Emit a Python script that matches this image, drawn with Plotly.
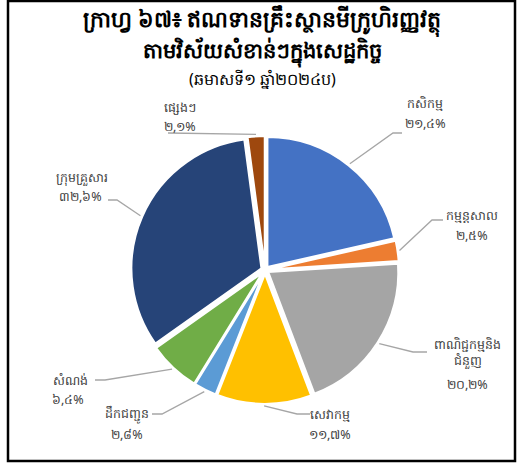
import math
import plotly.graph_objects as go

W, H = 519, 464

# ---- data ----
sectors = ["កសិកម្ម", "កម្មន្តសាល", "ពាណិជ្ជកម្មនិង<br>ជំនួញ", "សេវាកម្ម",
           "ដឹកជញ្ជូន", "សំណង់", "ក្រុមគ្រួសារ", "ផ្សេងៗ"]
shares = [21.4, 2.5, 20.2, 11.7, 2.8, 6.4, 32.6, 2.1]
colors = ["#4472C4", "#ED7D31", "#A5A5A5", "#FFC000",
          "#5B9BD5", "#70AD47", "#264478", "#9E480E"]
title_lines = ["ក្រាហ្វ ៦៧៖ ឥណទានគ្រឹះស្ថានមីក្រូហិរញ្ញវត្ថុ",
               "តាមវិស័យសំខាន់ៗក្នុងសេដ្ឋកិច្ច",
               "(ឆមាសទី១ ឆ្នាំ២០២៤ប)"]

# ---- layout / style (pixel positions of label name / percent text and leader lines) ----
# anchor: "c" = centred on x, "r" = right edge at x
name_pos = [(425, 103, "c"), (472, 216, "c"), (467, 352, "c"), (330, 414, "c"),
            (127, 414, "c"), (90, 380, "r"), (110, 177, "r"), (180, 107, "c")]
pct_pos = [(425, 124, "c"), (472, 236, "c"), (467, 384, "c"), (330, 434, "c"),
           (127, 434, "c"), (86, 399, "r"), (104, 197, "r"), (180, 126, "c")]
elbow_pos = [(393, 133), (432, 220), (413, 352), (297, 414),
             (162, 414), (105, 380), (117, 200), None]
end_pos = [(402, 133), (443, 220), (427, 352), (310, 414),
           (152, 414), (95, 380), (108, 200), (168, 133)]

CX, CY = 265, 270
R = 130
PULL = 0.03

KH_DIGITS = "០១២៣៤៥៦៧៨៩"
ANCHOR = {"c": "center", "r": "right", "l": "left"}


def kh_num(s):
    return "".join(KH_DIGITS[int(c)] if c.isdigit() else c for c in s)


def px(x):
    return x / W


def py(y):
    return 1 - y / H


total = sum(shares)
half = R * (1 + PULL)
fig = go.Figure()
fig.add_trace(go.Pie(
    labels=[s.replace("<br>", "") for s in sectors],
    values=shares,
    sort=False,
    direction="clockwise",
    rotation=0,
    pull=[PULL] * len(shares),
    marker=dict(colors=colors, line=dict(color="white", width=2)),
    textinfo="none",
    hoverinfo="label+percent",
    showlegend=False,
    domain=dict(x=[px(CX - half), px(CX + half)],
                y=[py(CY + half), py(CY - half)]),
))

shapes = []
annotations = []
cum = 0.0
for i, v in enumerate(shares):
    mid = cum + v / 2
    cum += v
    ang = math.radians(90 - 360 * mid / total)
    rr = R * (1 + PULL) + 2
    sx = CX + rr * math.cos(ang)
    sy = CY - rr * math.sin(ang)
    pts = [(sx, sy)]
    if elbow_pos[i] is not None:
        pts.append(elbow_pos[i])
    pts.append(end_pos[i])
    path = "M " + " L ".join(f"{px(x):.5f},{py(y):.5f}" for x, y in pts)
    shapes.append(dict(type="path", path=path, xref="paper", yref="paper",
                       line=dict(color="#A6A6A6", width=1.3)))
    pct = kh_num(f"{v:.1f}".replace(".", ",")) + "%"
    nx, ny, na = name_pos[i]
    qx, qy, qa = pct_pos[i]
    annotations.append(dict(
        x=px(nx), y=py(ny), xref="paper", yref="paper",
        text=sectors[i], showarrow=False,
        xanchor=ANCHOR[na], yanchor="middle", align="center",
        font=dict(size=12.5, color="#404040"),
    ))
    annotations.append(dict(
        x=px(qx), y=py(qy), xref="paper", yref="paper",
        text=pct, showarrow=False,
        xanchor=ANCHOR[qa], yanchor="middle", align="center",
        font=dict(size=12.5, color="#404040"),
    ))

# title
annotations.append(dict(x=px(262), y=py(21), xref="paper", yref="paper",
                        text="<b>" + title_lines[0] + "</b>", showarrow=False,
                        font=dict(size=22, color="#000000"),
                        xanchor="center", yanchor="middle"))
annotations.append(dict(x=px(262), y=py(52), xref="paper", yref="paper",
                        text="<b>" + title_lines[1] + "</b>", showarrow=False,
                        font=dict(size=21, color="#000000"),
                        xanchor="center", yanchor="middle"))
annotations.append(dict(x=px(262), y=py(79), xref="paper", yref="paper",
                        text=title_lines[2], showarrow=False,
                        font=dict(size=16, color="#000000"),
                        xanchor="center", yanchor="middle"))

# frame
shapes.append(dict(type="rect", xref="paper", yref="paper",
                   x0=px(8), x1=px(515), y0=py(461), y1=py(1),
                   line=dict(color="black", width=2.5)))

fig.update_layout(
    width=W, height=H,
    margin=dict(l=0, r=0, t=0, b=0),
    paper_bgcolor="white",
    plot_bgcolor="white",
    shapes=shapes,
    annotations=annotations,
    font=dict(family="Noto Sans, DejaVu Sans, sans-serif"),
)

fig.write_html(
    "out.html",
    config={"displayModeBar": False},
    post_script="document.body.style.margin='0';document.body.style.overflow='hidden';",
)
